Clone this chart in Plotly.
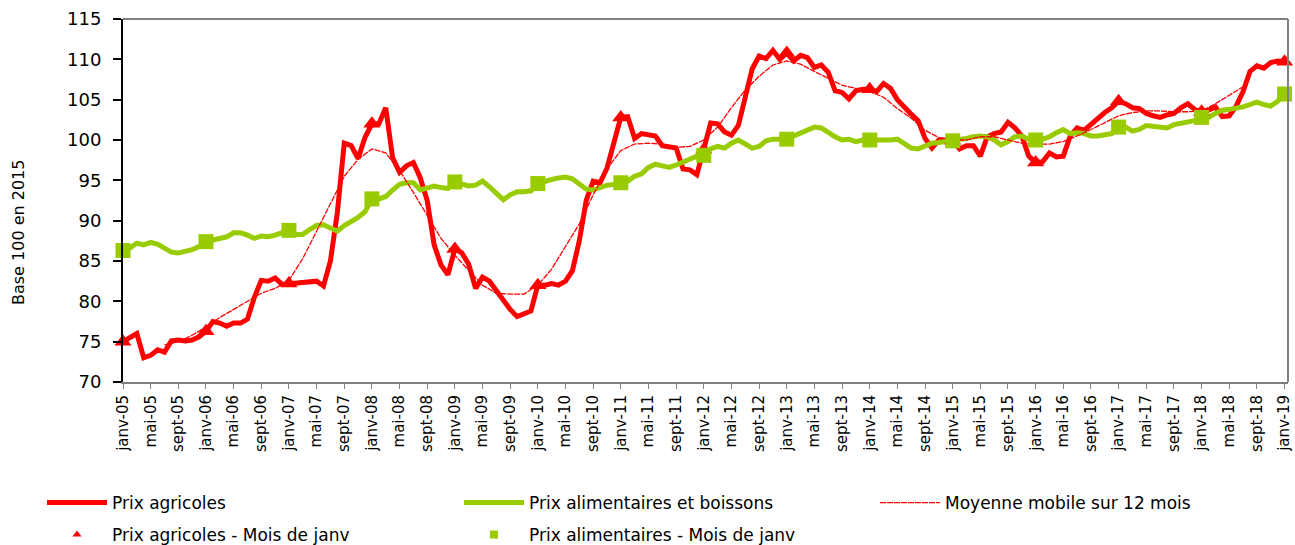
import plotly.graph_objects as go

mois = ["janv", "févr", "mars", "avr", "mai", "juin", "juil", "août", "sept", "oct", "nov", "déc"]
months = [f"{m}-{y:02d}" for y in range(5, 19) for m in mois] + ["janv-19"]

# Prix agricoles (base 100 en 2015), monthly janv-05 .. janv-19
agri_2005 = [75.0, 75.5, 76.0, 73.0, 73.3, 74.0, 73.7, 75.1, 75.2, 75.1, 75.2, 75.6]
agri_2006 = [76.3, 77.5, 77.3, 76.9, 77.3, 77.3, 77.8, 80.5, 82.6, 82.5, 82.9, 82.1]
agri_2007 = [82.2, 82.3, 82.3, 82.5, 82.5, 81.9, 85.0, 91.0, 99.6, 99.3, 97.7, 100.3]
agri_2008 = [102.0, 102.0, 104.0, 97.8, 96.0, 96.8, 97.2, 95.3, 92.5, 87.0, 84.5, 83.3]
agri_2009 = [86.5, 86.0, 84.6, 81.6, 83.0, 82.5, 81.3, 80.3, 79.0, 78.1, 78.4, 78.8]
agri_2010 = [82.0, 82.0, 82.2, 82.0, 82.5, 83.8, 87.5, 92.5, 94.9, 94.7, 96.5, 99.8]
agri_2011 = [102.8, 102.9, 100.2, 100.8, 100.7, 100.5, 99.3, 99.1, 99.0, 96.4, 96.3, 95.7]
agri_2012 = [98.8, 102.1, 102.0, 101.0, 100.6, 101.8, 105.3, 108.8, 110.4, 110.1, 111.1, 110.0]
agri_2013 = [110.8, 109.8, 110.5, 110.2, 109.0, 109.3, 108.4, 106.1, 105.9, 105.1, 106.1, 106.3]
agri_2014 = [106.3, 106.0, 107.0, 106.4, 105.0, 104.0, 103.2, 102.4, 100.2, 99.0, 100.0, 100.0]
agri_2015 = [99.9, 98.9, 99.3, 99.3, 98.0, 100.4, 100.8, 101.0, 102.2, 101.5, 100.5, 98.0]
agri_2016 = [97.2, 97.3, 98.4, 97.9, 98.0, 100.5, 101.5, 101.2, 102.0, 102.7, 103.4, 104.0]
agri_2017 = [104.8, 104.5, 104.0, 103.9, 103.3, 103.0, 102.8, 103.1, 103.3, 104.0, 104.5, 103.8]
agri_2018 = [103.5, 103.7, 104.1, 102.9, 103.0, 104.2, 106.0, 108.5, 109.2, 108.9, 109.6, 109.8]
agri_2019 = [109.7]

# Prix alimentaires et boissons
alim_2005 = [86.3, 86.6, 87.2, 87.0, 87.3, 87.1, 86.6, 86.1, 86.0, 86.2, 86.4, 86.8]
alim_2006 = [87.4, 87.6, 87.8, 88.0, 88.5, 88.5, 88.2, 87.8, 88.1, 88.0, 88.2, 88.5]
alim_2007 = [88.8, 88.3, 88.3, 88.9, 89.4, 89.5, 89.1, 88.7, 89.4, 89.9, 90.4, 91.1]
alim_2008 = [92.7, 92.7, 93.0, 93.8, 94.5, 94.7, 94.7, 93.8, 94.0, 94.3, 94.1, 94.0]
alim_2009 = [94.8, 94.6, 94.3, 94.4, 94.9, 94.2, 93.4, 92.6, 93.2, 93.6, 93.6, 93.7]
alim_2010 = [94.6, 94.9, 95.1, 95.3, 95.4, 95.2, 94.6, 93.9, 93.8, 94.1, 94.4, 94.5]
alim_2011 = [94.7, 94.9, 95.5, 95.8, 96.6, 97.0, 96.8, 96.6, 96.9, 97.3, 97.7, 98.0]
alim_2012 = [98.1, 98.9, 99.2, 99.0, 99.6, 100.0, 99.5, 99.0, 99.2, 99.9, 100.1, 100.1]
alim_2013 = [100.1, 100.5, 100.9, 101.3, 101.6, 101.5, 100.9, 100.4, 100.0, 100.1, 99.8, 100.0]
alim_2014 = [100.0, 100.0, 99.9, 100.0, 100.1, 99.6, 99.0, 98.9, 99.3, 99.6, 99.7, 99.8]
alim_2015 = [99.9, 100.0, 100.2, 100.4, 100.5, 100.4, 100.0, 99.4, 99.8, 100.4, 100.5, 100.1]
alim_2016 = [100.0, 100.1, 100.4, 100.9, 101.3, 100.8, 100.9, 100.8, 100.5, 100.5, 100.6, 100.8]
alim_2017 = [101.6, 101.6, 101.1, 101.3, 101.8, 101.7, 101.6, 101.5, 101.9, 102.1, 102.2, 102.4]
alim_2018 = [102.8, 102.8, 103.3, 103.7, 103.8, 103.9, 104.1, 104.4, 104.7, 104.4, 104.2, 104.8]
alim_2019 = [105.7]

# Moyenne mobile sur 12 mois (read every second month, juil-05 .. juil-18)
ma_values = [74.6, 75.0, 75.8, 76.8, 78.0, 79.0, 80.0, 81.0, 81.6, 82.6,
             85.3, 88.7, 92.2, 95.5, 97.6, 98.9, 98.4, 96.2, 93.5, 90.6,
             87.8, 85.7, 83.8, 82.0, 81.0, 80.9, 80.9, 82.0, 84.0, 86.8,
             89.6, 93.2, 96.4, 98.7, 99.5, 99.6, 99.5, 99.1, 99.2, 100.0,
             101.6, 104.0, 106.2, 107.9, 109.3, 109.8, 109.4, 108.5, 107.7, 106.8,
             106.4, 106.0, 105.3, 103.9, 102.7, 101.2, 100.3, 100.0, 100.0, 100.4,
             100.4, 100.0, 99.6, 99.5, 99.5, 99.8, 100.5, 101.3, 102.2, 103.0,
             103.4, 103.6, 103.6, 103.5, 103.5, 103.6, 104.5, 105.6, 106.6]

agri = (agri_2005 + agri_2006 + agri_2007 + agri_2008 + agri_2009 + agri_2010 + agri_2011 +
        agri_2012 + agri_2013 + agri_2014 + agri_2015 + agri_2016 + agri_2017 + agri_2018 + agri_2019)
alim = (alim_2005 + alim_2006 + alim_2007 + alim_2008 + alim_2009 + alim_2010 + alim_2011 +
        alim_2012 + alim_2013 + alim_2014 + alim_2015 + alim_2016 + alim_2017 + alim_2018 + alim_2019)
start = months.index("juil-05")
ma_months = months[start:start + 2 * len(ma_values):2]

jan_months = [m for m in months if m.startswith("janv")]
agri_jan = [agri[months.index(m)] for m in jan_months]
alim_jan = [alim[months.index(m)] for m in jan_months]
tick_labels = months[::4]

RED = "#FF0000"
GREEN = "#99CC00"
FONT = "DejaVu Sans"

fig = go.Figure()
fig.add_trace(go.Scatter(x=months, y=agri, mode="lines", name="Prix agricoles",
                         line=dict(color=RED, width=5), legend="legend", cliponaxis=False))
fig.add_trace(go.Scatter(x=months, y=alim, mode="lines", name="Prix alimentaires et boissons",
                         line=dict(color=GREEN, width=5), legend="legend", cliponaxis=False))
fig.add_trace(go.Scatter(x=ma_months, y=ma_values, mode="lines", name="Moyenne mobile sur 12 mois",
                         line=dict(color=RED, width=1.3, dash="6px,1px"), legend="legend3"))
fig.add_trace(go.Scatter(x=jan_months, y=agri_jan, mode="markers", showlegend=False,
                         marker=dict(symbol="triangle-up", size=15, color=RED), cliponaxis=False))
fig.add_trace(go.Scatter(x=jan_months, y=alim_jan, mode="markers", showlegend=False,
                         marker=dict(symbol="square", size=15, color=GREEN), cliponaxis=False))
# legend entries for the January markers (small symbols as in the original legend)
fig.add_trace(go.Scatter(x=[None], y=[None], mode="markers", name="Prix agricoles - Mois de janv",
                         marker=dict(symbol="triangle-up", size=8, color=RED), legend="legend2"))
fig.add_trace(go.Scatter(x=[None], y=[None], mode="markers", name="Prix alimentaires - Mois de janv",
                         marker=dict(symbol="square", size=8, color=GREEN), legend="legend2"))

W, H = 1295, 545
leg_common = dict(orientation="h", xref="container", yref="container", x=42 / W,
                  xanchor="left", yanchor="middle", entrywidth=342, entrywidthmode="pixels",
                  itemwidth=60, font=dict(family=FONT, size=17, color="black"),
                  bgcolor="rgba(0,0,0,0)", traceorder="normal")
fig.update_layout(
    width=W, height=H,
    margin=dict(l=123, r=7, t=19, b=163, autoexpand=False),
    paper_bgcolor="white", plot_bgcolor="white",
    font=dict(family=FONT, color="black"),
    xaxis=dict(type="category", categoryorder="array", categoryarray=months,
               range=[0, 168.5], tickmode="array", tickvals=tick_labels, ticktext=tick_labels,
               tickangle=-90, ticks="outside", ticklen=5, tickcolor="#808080", tickwidth=1,
               showline=True, linecolor="#808080", linewidth=2, showgrid=False, zeroline=False,
               automargin=False, tickfont=dict(family=FONT, size=15, color="black")),
    yaxis=dict(range=[70, 115], dtick=5, tick0=70, ticks="outside", ticklen=8, tickcolor="black",
               tickwidth=1.5, showline=True, linecolor="black", linewidth=2, showgrid=False,
               zeroline=False, ticklabelstandoff=8, automargin=False,
               tickfont=dict(family=FONT, size=18, color="black")),
    legend=dict(leg_common, y=1 - 503 / H),
    legend2=dict(leg_common, y=1 - 535 / H),
    legend3=dict(leg_common, x=875 / W, y=1 - 503 / H),
    shapes=[
        dict(type="line", xref="paper", yref="paper", x0=0, x1=1, y0=1, y1=1,
             line=dict(color="#808080", width=2)),
        dict(type="line", xref="paper", yref="paper", x0=1, x1=1, y0=0, y1=1,
             line=dict(color="#808080", width=2)),
    ],
    annotations=[
        dict(text="Base 100 en 2015", xref="paper", yref="paper", x=(18 - 123) / 1165,
             y=(382 - 233) / 363, textangle=-90, showarrow=False, xanchor="center", yanchor="middle",
             font=dict(family=FONT, size=16, color="black")),
    ],
)

fig.write_html("out.html", config={"displayModeBar": False},
               post_script="document.body.style.margin='0';document.body.style.overflow='hidden';")
